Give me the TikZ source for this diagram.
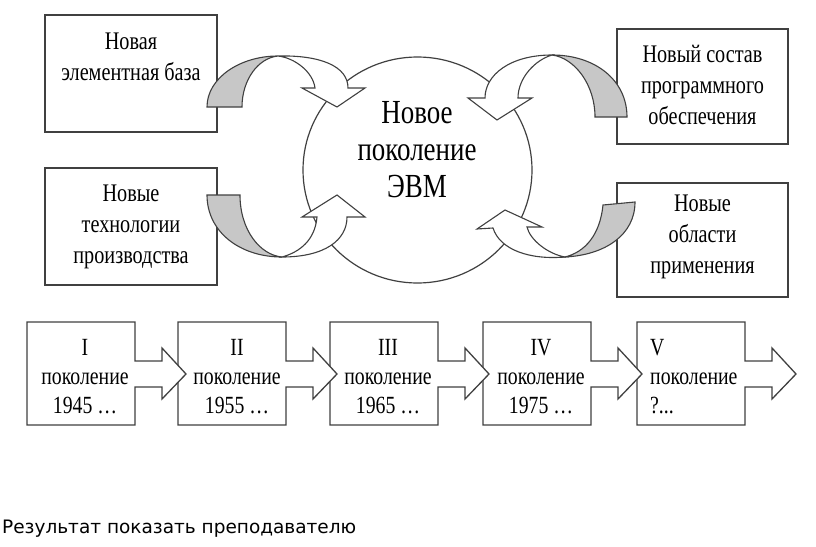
\documentclass[tikz,border=0pt]{standalone}
\usepackage{fontspec}
\setmainfont{Liberation Serif}[FakeStretch=0.8]
\newfontfamily\notefont{DejaVu Sans}
\usetikzlibrary{shapes.geometric}
\tikzset{
  infobox/.style={draw=black!75, line width=1.3pt, fill=white, inner sep=0pt},
  boxtext/.style={align=center, inner sep=0pt, font=\fontsize{25.3}{31}\selectfont},
  gentext/.style={align=center, inner sep=0pt, font=\fontsize{24.7}{29}\selectfont},
  genline/.style={draw=black!75, line width=1.3pt, fill=white},
  bandgray/.style={draw=black!75, line width=1.1pt, fill=black!22},
  bandwhite/.style={draw=black!75, line width=1.1pt, fill=white}
}

\begin{document}
\begin{tikzpicture}[x=1pt,y=-1pt]
			%%%%% START %%%%%
			\useasboundingbox (0,0) rectangle (816,546);
			
			% boxes round the ellipse
			\node[infobox, minimum width=172pt, minimum height=117pt] (baza) at (131,73.5) {};
			\node[infobox, minimum width=172pt, minimum height=117pt] (tech) at (131,226.5) {};
			\node[infobox, minimum width=171pt, minimum height=115pt] (soft) at (702.5,86.5) {};
			\node[infobox, minimum width=171pt, minimum height=114pt] (apps) at (702.5,240) {};
			\node[boxtext] (bazat) at (131,57) {Новая\\элементная база};
			\node[boxtext] (techt) at (131,227) {Новые\\технологии\\производства};
			\node[boxtext] (softt) at (702.5,84.5) {Новый состав\\программного\\обеспечения};
			\node[boxtext] (appst) at (702.5,236.5) {Новые\\области\\применения};
			
			\node[draw=black!75, line width=1.2pt, ellipse, minimum width=229pt, minimum height=226pt, inner sep=0pt] (evm) at (417.5,170) {};
			\node[align=center, inner sep=0pt, font=\fontsize{33.7}{37}\selectfont] (evmt) at (417,150) {Новое\\поколение\\ЭВМ};
			
			% curved arrows
			\draw[bandgray] (207,107) -- (242,107) .. controls (242,80) and (258,58) .. (278,56) .. controls (240,56) and (207,78) .. (207,107) -- cycle;
			\draw[bandwhite] (278,56) .. controls (320,55) and (348,66) .. (348,88) -- (365,88) -- (337,107) -- (302,88) -- (315,88) .. controls (313,72) and (295,58) .. (278,56) -- cycle;
			
			\draw[bandgray] (207,195) -- (240,195) .. controls (240,230) and (260,255) .. (282,257) .. controls (240,257) and (207,232) .. (207,195) -- cycle;
			\draw[bandwhite] (282,257) .. controls (325,257) and (347,240) .. (347,217) -- (365,217) -- (337,195) -- (302,217) -- (317,217) .. controls (315,240) and (300,252) .. (282,257) -- cycle;
			
			\draw[bandgray] (627,117) -- (595,117) .. controls (595,85) and (575,58) .. (552,55) .. controls (595,55) and (627,80) .. (627,117) -- cycle;
			\draw[bandwhite] (552,55) .. controls (510,55) and (485,75) .. (485,98) -- (468,98) -- (497,120) -- (532,98) -- (518,98) .. controls (518,78) and (535,60) .. (552,55) -- cycle;
			
			\draw[bandgray] (635,202) -- (603,205) .. controls (600,235) and (585,252) .. (565,257) .. controls (605,255) and (635,235) .. (635,202) -- cycle;
			\draw[bandwhite] (565,257) .. controls (530,260) and (500,250) .. (493,228) -- (477,229) -- (505,210) -- (542,227) -- (527,227) .. controls (530,240) and (548,254) .. (565,257) -- cycle;
			
			% generations, right to left so each head lies on the next box
			\foreach \l in {637,483,330,178,27}
				\draw[genline] (\l,322) -- ++(108,0) -- ++(0,39) -- ++(27,0) -- ++(0,-13) -- ++(24,26) -- ++(-24,25) -- ++(0,-12) -- ++(-27,0) -- ++(0,38) -- ++(-108,0) -- cycle;
			
			\node[gentext] (gen1) at (85,377) {I\\поколение\\1945 …};
			\node[gentext] (gen2) at (237,377) {II\\поколение\\1955 …};
			\node[gentext] (gen3) at (388,377) {III\\поколение\\1965 …};
			\node[gentext] (gen4) at (541,377) {IV\\поколение\\1975 …};
			\node[gentext, align=left, anchor=west] (gen5) at (650,377) {V\\поколение\\?...};
			
			\node[anchor=base west, inner sep=0pt, font=\notefont\fontsize{18.5}{22}\selectfont] (note) at (2,533) {Результат показать преподавателю};
			%%%%% END %%%%%
\end{tikzpicture}
\end{document}
